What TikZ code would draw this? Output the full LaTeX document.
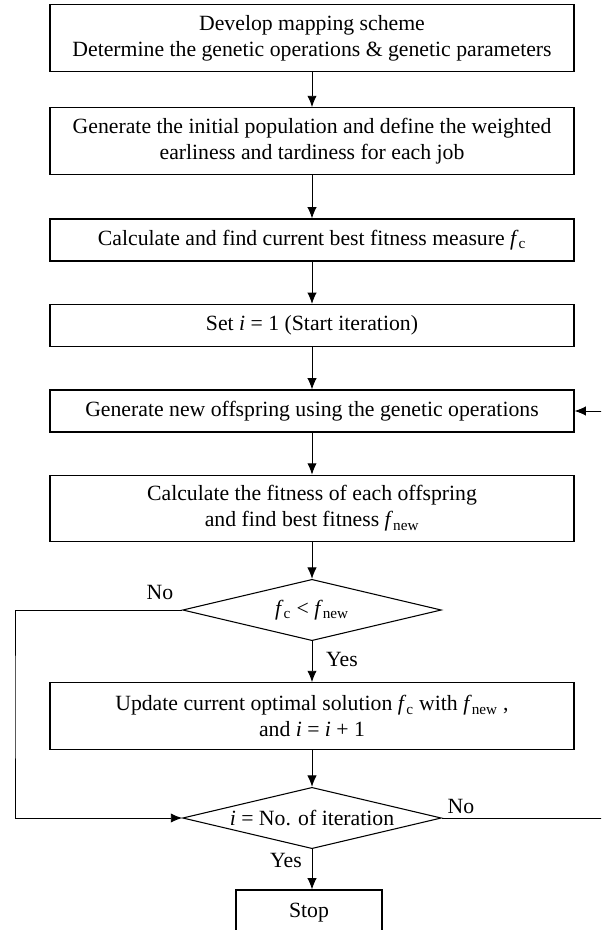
\documentclass[tikz,border=0pt]{standalone}
\usepackage{fontspec}
\setmainfont{Liberation Serif}
\usepackage{tikz}
\usetikzlibrary{arrows.meta, shapes.geometric}

\newcommand{\fcurr}{\textit{f}\textsubscript{c}}
\newcommand{\fnewest}{\textit{f}\textsubscript{new}}

\tikzset{
  process/.style = {draw, line width = 0.8pt, minimum width = 393pt, inner sep = 0pt,
                    align = center, font = \fontsize{16.3}{19.5}\selectfont},
  decision/.style = {draw, diamond, line width = 0.8pt, aspect = 4.2, inner sep = 0pt,
                     minimum width = 194pt, minimum height = 46pt,
                     font = \fontsize{16.3}{19.5}\selectfont},
  flow/.style = {line width = 0.7pt, -{Latex[length = 8.5pt, width = 7pt]}},
  tag/.style = {font = \fontsize{16.3}{19.5}\selectfont, inner sep = 0pt},
}

\begin{document}
\begin{tikzpicture}[x = 0.75pt, y = -0.75pt]
  \def\midX{312}
  \def\tallH{50pt}
  \def\lowH{31.5pt}

  \useasboundingbox (0, 0) rectangle (601, 930);
  \clip (0, 0) rectangle (601, 930);

  % ------------------------
  % main column of steps
  % ------------------------

  \node[process, minimum height = \tallH] (mapping) at (\midX, 38)
    {Develop mapping scheme\\Determine the genetic operations \& genetic parameters};
  \node[process, minimum height = \tallH] (initpop) at (\midX, 141)
    {Generate the initial population and define the weighted\\earliness and tardiness for each job};
  \node[process, minimum height = \lowH] (bestfit) at (\midX, 240)
    {Calculate and find current best fitness measure \fcurr};
  \node[process, minimum height = \lowH] (setiter) at (\midX, 325.5)
    {Set \textit{i} = 1 (Start iteration)};
  \node[process, minimum height = \lowH] (offspring) at (\midX, 411)
    {Generate new offspring using the genetic operations};
  \node[process, minimum height = \tallH] (fitness) at (\midX, 508.5)
    {Calculate the fitness of each offspring\\and find best fitness \fnewest};
  \node[decision] (better) at (\midX, 610) {\fcurr{} {<} \fnewest};
  \node[process, minimum height = \tallH] (update) at (\midX, 716)
    {Update current optimal solution \fcurr{} with \fnewest{} ,\\and \textit{i} = \textit{i} + 1};
  \node[decision] (finished) at (\midX, 818) {\textit{i} = No. of iteration};
  \node[process, minimum width = 109.5pt, minimum height = 34.5pt] (stop) at (309, 913) {Stop};

  \draw[flow] (mapping) to (initpop);
  \draw[flow] (initpop) to (bestfit);
  \draw[flow] (bestfit) to (setiter);
  \draw[flow] (setiter) to (offspring);
  \draw[flow] (offspring) to (fitness);
  \draw[flow] (fitness) to (better);
  \draw[flow] (better) to (update);
  \draw[flow] (update) to (finished);
  \draw[flow] (finished.south) to (finished.south |- stop.north);

  % ------------------------
  % loops back
  % ------------------------

  \coordinate (loopL) at (15, 700);
  \coordinate (loopR) at (614, 600);

  \draw[flow] (better.west) -| (loopL) |- (finished.west);
  \draw[flow] (finished.east) -| (loopR) |- (offspring.east);

  \node[tag] (noA) at (160, 592) {No};
  \node[tag] (yesA) at (342, 659) {Yes};
  \node[tag] (noB) at (461, 806) {No};
  \node[tag] (yesB) at (286, 860) {Yes};
\end{tikzpicture}
\end{document}
